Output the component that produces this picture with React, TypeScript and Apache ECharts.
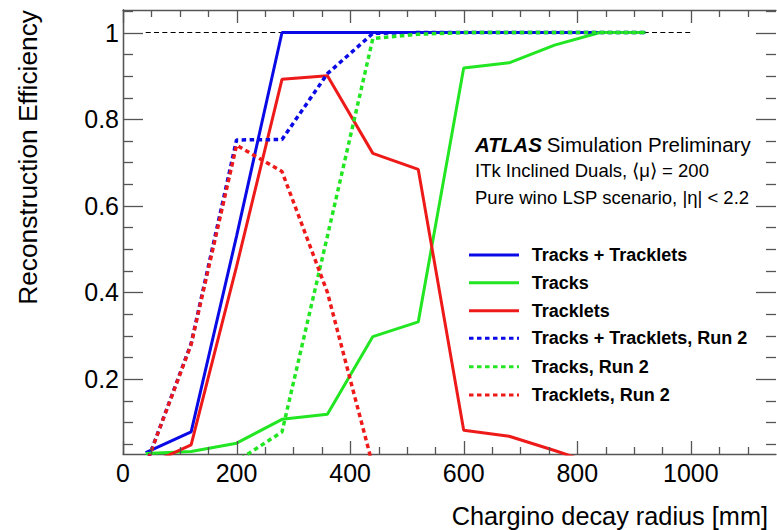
import React, { useEffect, useRef } from "react";
import * as echarts from "echarts";

// ---- data ----
const radius = [40, 120, 200, 280, 360, 440, 520, 600, 680, 760, 840, 920];
const tracksTracklets = [0.03, 0.078, 0.53, 1, 1, 1, 1, 1, 1, 1, 1, 1];
const tracks = [0.028, 0.033, 0.052, 0.107, 0.119, 0.298, 0.332, 0.918, 0.93, 0.971, 1, 1];
const tracklets = [0, 0.048, 0.46, 0.892, 0.9, 0.721, 0.684, 0.082, 0.068, 0.035, 0, 0];
const tracksTrackletsRun2 = [0, 0.282, 0.752, 0.753, 0.905, 0.998, 1, 1, 1, 1, 1, 1];
const tracksRun2 = [0, 0, 0.01, 0.078, 0.53, 0.986, 0.996, 1, 1, 1, 1, 1];
const trackletsRun2 = [0, 0.28, 0.74, 0.679, 0.4, 0, 0, 0, 0, 0, 0, 0];
const unityLineX = [40, 1000];
const unityLineY = [1, 1];

const seriesNames = [
  "Tracks + Tracklets",
  "Tracks",
  "Tracklets",
  "Tracks + Tracklets, Run 2",
  "Tracks, Run 2",
  "Tracklets, Run 2",
];
const seriesValues = [tracksTracklets, tracks, tracklets, tracksTrackletsRun2, tracksRun2, trackletsRun2];

const xMajor = [0, 200, 400, 600, 800, 1000];
const xMinor = [50, 100, 150, 250, 300, 350, 450, 500, 550, 650, 700, 750, 850, 900, 950, 1050, 1100];
const yMajor = [0.2, 0.4, 0.6, 0.8, 1];
const yMinor = [0.05, 0.1, 0.15, 0.25, 0.3, 0.35, 0.45, 0.5, 0.55, 0.65, 0.7, 0.75, 0.85, 0.9, 0.95, 1.05];

const BLUE = "#0a0ae6";
const GREEN = "#22e622";
const RED = "#ee1a1a";
const colors = [BLUE, GREEN, RED, BLUE, GREEN, RED];
const FRAME = "#555555";
const FONT = '"Liberation Sans", Arial, Helvetica, sans-serif';

export default function App() {
  const ref = useRef<HTMLDivElement>(null);

  useEffect(() => {
    if (!ref.current) return;
    const chart = echarts.init(ref.current, undefined, { renderer: "svg" });

    const W = 777, H = 530;
    const G_LEFT = 123, G_RIGHT = 1, G_TOP = 10, G_BOTTOM = 76;
    const X_MIN = 0, X_MAX = 1150, Y_MIN = 0.027, Y_MAX = 1.052;

    const xAxis = (position: string, labels: boolean) => ({
      type: "value",
      position,
      min: X_MIN,
      max: X_MAX,
      axisLine: { show: true, lineStyle: { color: FRAME, width: 1.3 } },
      axisTick: { show: false },
      axisLabel: labels
        ? {
            show: true,
            customValues: xMajor,
            fontSize: 25,
            color: "#000",
            margin: 6,
            fontFamily: FONT,
            formatter: (v: number) => String(Math.round(v)),
          }
        : { show: false },
      splitLine: { show: false },
    });
    const yAxis = (position: string, labels: boolean) => ({
      type: "value",
      position,
      min: Y_MIN,
      max: Y_MAX,
      axisLine: { show: true, lineStyle: { color: FRAME, width: 1.3 } },
      axisTick: { show: false },
      axisLabel: labels
        ? {
            show: true,
            customValues: yMajor,
            fontSize: 25,
            color: "#000",
            margin: 4,
            fontFamily: FONT,
            formatter: (v: number) => (Math.abs(v - 1) < 1e-9 ? "1" : v.toFixed(1)),
          }
        : { show: false },
      splitLine: { show: false },
    });

    const dataSeries = seriesNames.map((name, i) => ({
      name,
      type: "line",
      xAxisIndex: 0,
      yAxisIndex: 0,
      data: radius.map((r, j) => [r, seriesValues[i][j]]),
      symbol: "none",
      showSymbol: false,
      clip: true,
      z: 3 + i,
      lineStyle: { color: colors[i], width: i < 3 ? 3 : 3.5, type: i < 3 ? "solid" : [4.5, 3.5] },
      itemStyle: { color: colors[i] },
    }));

    // ---- tick marks on all four sides (axis decoration, same linear mapping as the grid) ----
    const gx0 = G_LEFT, gx1 = W - G_RIGHT, gy0 = G_TOP, gy1 = H - G_BOTTOM;
    const px = (x: number) => gx0 + ((x - X_MIN) / (X_MAX - X_MIN)) * (gx1 - gx0);
    const py = (y: number) => gy1 - ((y - Y_MIN) / (Y_MAX - Y_MIN)) * (gy1 - gy0);
    const ticks: any[] = [];
    const tick = (x1: number, y1: number, x2: number, y2: number) =>
      ticks.push({
        type: "line",
        silent: true,
        shape: { x1, y1, x2, y2 },
        style: { stroke: FRAME, lineWidth: 1.3, fill: null },
        z: 50,
      });
    xMajor.concat(xMinor).forEach((v, i) => {
      const len = i < xMajor.length ? 13 : 7;
      const x = Math.round(px(v)) + 0.5;
      tick(x, gy1, x, gy1 - len);
      tick(x, gy0, x, gy0 + len);
    });
    yMajor.concat(yMinor).forEach((v, i) => {
      const len = i < yMajor.length ? 20 : 10;
      const y = Math.round(py(v)) + 0.5;
      tick(gx0, y, gx0 + len, y);
      tick(gx1, y, gx1 - len, y);
    });

    // ---- legend (drawn as graphic lines + texts) ----
    const legendTop = [255, 282.7, 310.7, 338.3, 366.7, 395];
    const legendGraphics: any[] = [];
    seriesNames.forEach((name, i) => {
      legendGraphics.push({
        type: "line",
        shape: { x1: 469, y1: legendTop[i], x2: 519, y2: legendTop[i] },
        style: { stroke: colors[i], lineWidth: 3, lineDash: i < 3 ? null : [4.5, 3.5] },
      });
      legendGraphics.push({
        type: "text",
        x: 531.7,
        y: legendTop[i],
        style: { text: name, font: `bold 18px ${FONT}`, fill: "#000", align: "left", verticalAlign: "middle" },
      });
    });

    chart.setOption({
      animation: false,
      grid: { left: G_LEFT, right: G_RIGHT, top: G_TOP, bottom: G_BOTTOM },
      xAxis: [xAxis("bottom", true), xAxis("top", false)],
      yAxis: [yAxis("left", true), yAxis("right", false)],
      series: [
        {
          name: "unity",
          type: "line",
          xAxisIndex: 0,
          yAxisIndex: 0,
          data: unityLineX.map((x, j) => [x, unityLineY[j]]),
          symbol: "none",
          showSymbol: false,
          z: 2,
          lineStyle: { color: "#000", width: 1.2, type: [5, 3.3] },
        },
        ...dataSeries,
      ],
      graphic: [
        ...ticks,
        {
          type: "text",
          x: 475,
          y: 144.6,
          style: { text: "ATLAS", font: `italic bold 20.5px ${FONT}`, fill: "#000", align: "left", verticalAlign: "middle" },
        },
        {
          type: "text",
          x: 546.7,
          y: 144.6,
          style: { text: "Simulation Preliminary", font: `20.5px ${FONT}`, fill: "#000", align: "left", verticalAlign: "middle" },
        },
        {
          type: "text",
          x: 475,
          y: 170.3,
          style: { text: "ITk Inclined Duals, ⟨μ⟩ = 200", font: `18.5px ${FONT}`, fill: "#000", align: "left", verticalAlign: "middle" },
        },
        {
          type: "text",
          x: 475,
          y: 197.6,
          style: { text: "Pure wino LSP scenario, |η| < 2.2", font: `18.5px ${FONT}`, fill: "#000", align: "left", verticalAlign: "middle" },
        },
        {
          type: "text",
          x: 768,
          y: 516.3,
          style: { text: "Chargino decay radius [mm]", font: `25.3px ${FONT}`, fill: "#000", align: "right", verticalAlign: "middle" },
        },
        {
          type: "text",
          x: 28,
          y: 10,
          rotation: Math.PI / 2,
          style: { text: "Reconstruction Efficiency", font: `26.3px ${FONT}`, fill: "#000", align: "right", verticalAlign: "middle" },
        },
        ...legendGraphics,
      ],
    });

    return () => chart.dispose();
  }, []);

  return (
    <div
      ref={ref}
      style={{ position: "fixed", left: 0, top: 0, width: 777, height: 530, background: "#fff" }}
    />
  );
}
